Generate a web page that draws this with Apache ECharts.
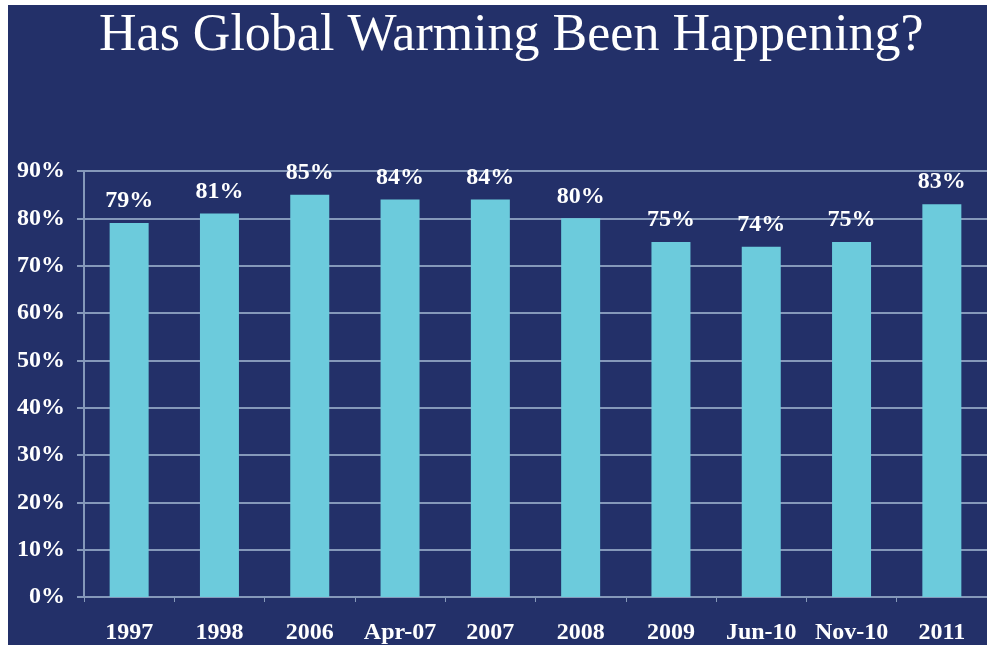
<!DOCTYPE html>
<html><head><meta charset="utf-8">
<script src="https://cdn.jsdelivr.net/npm/echarts@6/dist/echarts.min.js"></script>
<style>
html,body{margin:0;padding:0;background:#ffffff;width:987px;height:648px;overflow:hidden}
#c{position:absolute;left:8px;top:5px;width:979px;height:640px}
</style></head><body>
<div id="c"></div>
<script>
var titleText = 'Has Global Warming Been Happening?';
var categories = ['1997','1998','2006','Apr-07','2007','2008','2009','Jun-10','Nov-10','2011'];
var values = [79,81,85,84,84,80,75,74,75,83];
var yMin = 0, yMax = 90, yStep = 10;

var serif = '"Liberation Serif","DejaVu Serif",serif';
var gridCol = '#8598ba';
var chart = echarts.init(document.getElementById('c'));
chart.setOption({
  backgroundColor: '#233069',
  animation: false,
  title: {
    text: titleText, left: 86, top: 0,
    textStyle: {color:'#ffffff', fontFamily: serif, fontWeight:'normal', fontSize: 52}
  },
  grid: {left: 76, top: 166, width: 905, height: 426, containLabel: false},
  xAxis: {
    type: 'category', data: categories,
    axisLine: {lineStyle:{color:gridCol, width:2}},
    axisTick: {show:true, alignWithLabel:false, length:5, lineStyle:{color:gridCol, width:1}},
    axisLabel: {color:'#ffffff', fontFamily: serif, fontWeight:'bold', fontSize:24, margin:24, interval:0}
  },
  yAxis: {
    type: 'value', min: yMin, max: yMax, interval: yStep,
    axisLine: {show:true, lineStyle:{color:gridCol, width:2}},
    axisTick: {show:true, length:7, inside:false, lineStyle:{color:gridCol, width:2}},
    splitLine: {show:true, lineStyle:{color:gridCol, width:2}},
    axisLabel: {color:'#ffffff', fontFamily: serif, fontWeight:'bold', fontSize:24, margin:19,
      formatter: function(v){return v+'%';}}
  },
  series: [{
    type: 'bar', data: values, barWidth: 39,
    itemStyle: {color:'#6ccbdc'},
    label: {show:true, position:'top', distance:10, color:'#ffffff', fontFamily: serif,
      fontWeight:'bold', fontSize:24, formatter: function(p){return p.value+'%';}}
  }]
});
</script>
</body></html>
